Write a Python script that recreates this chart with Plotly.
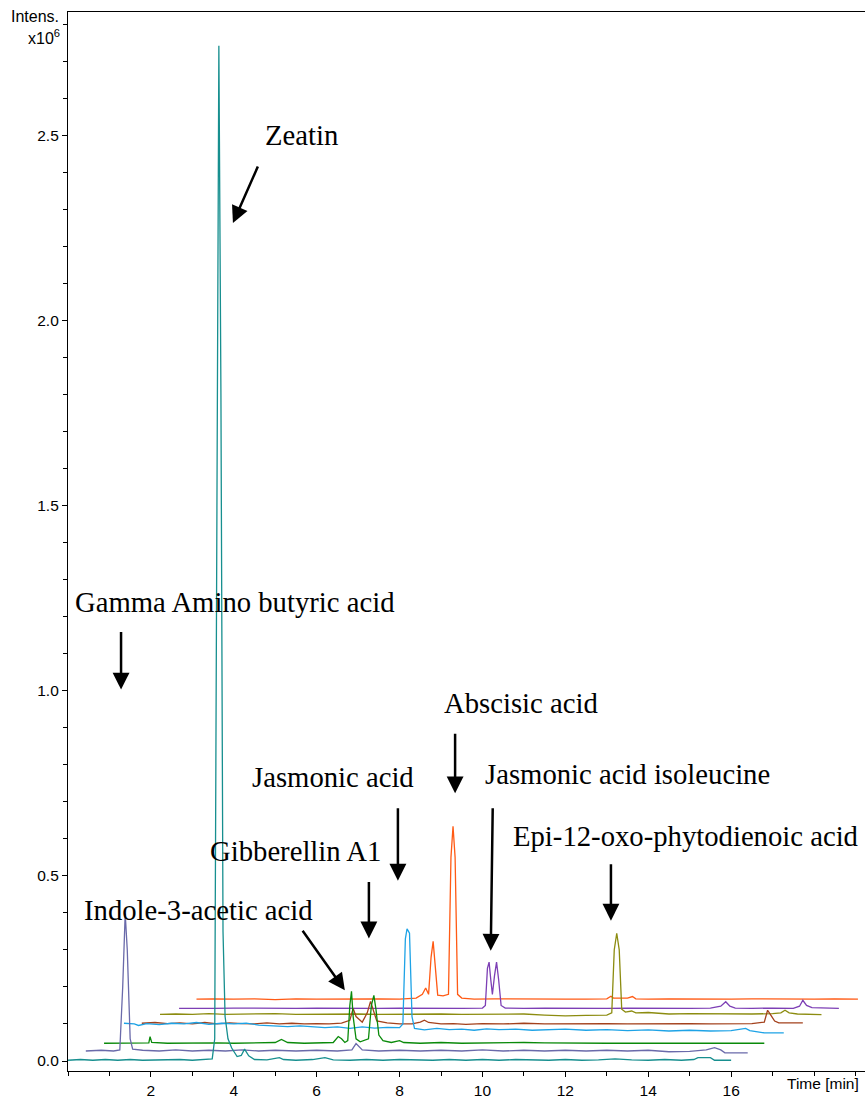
import plotly.graph_objects as go

# ---- data: (time [min], intensity x10^6) readings per trace ----
zeatin_teal = [(0.0,0.002),(0.3,0.004),(0.6,0.002),(0.9,0.004),(1.2,0.002),(1.5,0.004),(1.8,0.002),(2.1,0.003),
    (2.4,0.002),(2.7,0.004),(3.0,0.002),(3.3,0.004),(3.48,0.006),(3.54,0.06),(3.60,1.9),(3.64,2.742),(3.69,1.8),
    (3.74,0.35),(3.79,0.12),(3.86,0.06),(3.95,0.035),(4.08,0.012),(4.18,0.015),(4.26,0.032),(4.36,0.014),(4.5,0.004),
    (4.8,0.003),(5.1,0.009),(5.2,0.004),(5.5,0.002),(5.9,0.004),(6.2,0.009),(6.4,0.003),(6.8,0.002),(7.2,0.004),
    (7.6,0.002),(8.0,0.004),(8.4,0.003),(8.8,0.002),(9.2,0.004),(9.6,0.002),(10.0,0.004),(10.4,0.002),(10.8,0.004),
    (11.2,0.003),(11.6,0.002),(12.0,0.004),(12.4,0.002),(12.8,0.003),(13.2,0.006),(13.6,0.003),(14.0,0.002),
    (14.4,0.004),(14.8,0.002),(15.1,0.004),(15.2,0.009),(15.5,0.009),(15.6,0.002),(16.0,0.002)]

gaba_slate = [(0.43,0.027),(0.8,0.029),(1.1,0.027),(1.25,0.03),(1.32,0.2),(1.38,0.398),(1.43,0.3),(1.5,0.06),
    (1.56,0.032),(1.8,0.029),(2.2,0.027),(2.6,0.03),(3.0,0.027),(3.4,0.029),(3.8,0.027),(4.2,0.03),(4.6,0.027),
    (5.0,0.029),(5.5,0.027),(6.0,0.029),(6.5,0.027),(6.85,0.03),(6.95,0.047),(7.1,0.03),(7.5,0.027),(8.0,0.029),
    (8.5,0.027),(9.0,0.029),(9.5,0.027),(10.0,0.03),(10.5,0.027),(11.0,0.029),(11.5,0.027),(12.0,0.029),
    (12.5,0.027),(13.0,0.029),(13.5,0.027),(14.0,0.029),(14.5,0.025),(15.0,0.026),(15.4,0.03),(15.6,0.036),
    (15.75,0.03),(15.85,0.022),(16.4,0.022)]

iaa_green = [(0.87,0.048),(1.3,0.049),(1.7,0.048),(1.95,0.049),(1.98,0.066),(2.02,0.05),(2.4,0.048),(2.8,0.049),
    (3.2,0.048),(3.6,0.049),(4.0,0.048),(4.5,0.049),(5.0,0.05),(5.15,0.058),(5.3,0.05),(5.7,0.048),(6.1,0.049),
    (6.4,0.05),(6.52,0.066),(6.6,0.06),(6.68,0.05),(6.75,0.055),(6.8,0.15),(6.84,0.188),(6.88,0.12),(6.95,0.06),
    (7.05,0.052),(7.25,0.06),(7.32,0.15),(7.38,0.177),(7.43,0.14),(7.5,0.07),(7.6,0.055),(7.8,0.05),(8.0,0.055),
    (8.1,0.05),(8.5,0.048),(9.0,0.05),(9.5,0.048),(10.0,0.049),(10.5,0.048),(11.0,0.05),(11.5,0.049),(12.0,0.048),
    (12.5,0.048),(13.0,0.048),(14.0,0.048),(15.0,0.048),(16.0,0.05),(16.2,0.049),(16.8,0.048)]

ja_blue = [(1.35,0.102),(1.6,0.1),(1.7,0.096),(1.9,0.101),(2.2,0.098),(2.5,0.102),(2.8,0.1),(3.1,0.104),(3.4,0.099),
    (3.7,0.102),(4.0,0.1),(4.3,0.102),(4.6,0.097),(5.0,0.095),(5.3,0.093),(5.6,0.095),(5.9,0.092),(6.2,0.09),
    (6.5,0.092),(6.8,0.088),(7.1,0.092),(7.4,0.089),(7.7,0.091),(8.0,0.09),(8.08,0.1),(8.14,0.33),(8.18,0.357),
    (8.24,0.345),(8.3,0.12),(8.36,0.088),(8.6,0.084),(8.9,0.088),(9.2,0.085),(9.5,0.086),(9.8,0.083),(10.1,0.087),
    (10.4,0.085),(10.8,0.086),(11.2,0.083),(11.6,0.085),(12.0,0.086),(12.5,0.083),(13.0,0.085),(13.5,0.082),
    (14.0,0.084),(14.5,0.081),(15.0,0.083),(15.5,0.081),(16.0,0.082),(16.35,0.088),(16.45,0.082),(16.8,0.076),
    (17.27,0.076)]

ga1_brown = [(1.78,0.102),(2.1,0.104),(2.4,0.101),(2.7,0.103),(3.0,0.1),(3.3,0.104),(3.6,0.1),(3.9,0.103),(4.2,0.101),
    (4.5,0.1),(4.8,0.103),(5.1,0.1),(5.4,0.102),(5.7,0.1),(6.0,0.101),(6.3,0.1),(6.6,0.102),(6.8,0.11),(6.88,0.142),
    (6.95,0.12),(7.1,0.105),(7.22,0.13),(7.3,0.161),(7.36,0.14),(7.45,0.108),(7.7,0.103),(8.0,0.1),(8.3,0.1),
    (8.5,0.105),(8.6,0.11),(8.7,0.104),(9.0,0.1),(9.3,0.101),(9.6,0.099),(10.0,0.101),(10.5,0.1),(11.0,0.102),
    (11.5,0.1),(12.0,0.101),(12.5,0.1),(13.0,0.101),(13.5,0.1),(14.0,0.101),(14.5,0.1),(15.0,0.101),(15.5,0.1),
    (16.0,0.1),(16.5,0.101),(16.8,0.105),(16.88,0.137),(16.95,0.125),(17.05,0.108),(17.15,0.103),(17.73,0.103)]

opda_olive = [(2.22,0.126),(2.6,0.127),(3.0,0.126),(3.4,0.128),(3.8,0.126),(4.2,0.127),(4.6,0.126),(5.0,0.128),
    (5.5,0.126),(6.0,0.127),(6.5,0.126),(7.0,0.127),(7.5,0.126),(8.0,0.127),(8.5,0.126),(9.0,0.127),(9.5,0.126),
    (10.0,0.127),(10.5,0.126),(11.0,0.127),(11.5,0.124),(12.0,0.122),(12.5,0.123),(13.0,0.124),(13.12,0.13),
    (13.18,0.3),(13.24,0.345),(13.3,0.3),(13.36,0.14),(13.45,0.132),(13.6,0.135),(13.7,0.13),(14.0,0.131),
    (14.5,0.127),(15.0,0.128),(15.5,0.127),(16.0,0.128),(16.5,0.127),(17.0,0.128),(17.2,0.13),(17.3,0.137),
    (17.4,0.13),(17.6,0.127),(18.18,0.125)]

jaile_purple = [(2.68,0.142),(3.1,0.143),(3.5,0.142),(4.0,0.143),(4.5,0.142),(5.0,0.143),(5.5,0.142),(6.0,0.143),
    (6.5,0.142),(7.0,0.143),(7.5,0.142),(8.0,0.143),(8.5,0.142),(9.0,0.143),(9.5,0.142),(10.0,0.143),(10.07,0.15),
    (10.12,0.25),(10.16,0.267),(10.2,0.22),(10.24,0.18),(10.29,0.23),(10.34,0.267),(10.39,0.22),(10.45,0.15),
    (10.55,0.143),(11.0,0.142),(11.5,0.143),(12.0,0.142),(12.5,0.143),(13.0,0.142),(13.5,0.143),(14.0,0.142),
    (14.5,0.143),(15.0,0.142),(15.5,0.143),(15.75,0.148),(15.87,0.16),(15.97,0.148),(16.1,0.143),(16.5,0.142),
    (17.0,0.143),(17.5,0.142),(17.65,0.148),(17.73,0.164),(17.82,0.15),(17.95,0.144),(18.6,0.142)]

aba_orange = [(3.1,0.167),(3.5,0.168),(4.0,0.167),(4.5,0.168),(5.0,0.166),(5.5,0.168),(6.0,0.167),(6.5,0.168),
    (7.0,0.167),(7.5,0.168),(8.0,0.167),(8.4,0.17),(8.55,0.18),(8.63,0.197),(8.7,0.18),(8.76,0.28),(8.81,0.323),
    (8.86,0.26),(8.92,0.178),(9.05,0.176),(9.18,0.18),(9.24,0.55),(9.29,0.634),(9.34,0.55),(9.4,0.18),(9.5,0.17),
    (9.8,0.167),(10.3,0.168),(11.0,0.167),(11.5,0.168),(12.0,0.167),(12.5,0.167),(13.0,0.168),(13.1,0.175),
    (13.16,0.17),(13.5,0.17),(13.62,0.174),(13.7,0.168),(14.0,0.167),(14.5,0.168),(15.0,0.167),(15.5,0.168),
    (16.0,0.167),(16.5,0.168),(17.0,0.167),(17.5,0.168),(18.0,0.167),(18.5,0.168),(19.06,0.167)]

series = [
    (aba_orange, "#ff5a14"),
    (jaile_purple, "#7d3fb5"),
    (opda_olive, "#8c8c10"),
    (ga1_brown, "#a3411c"),
    (ja_blue, "#1ea3e6"),
    (iaa_green, "#0a8a0a"),
    (gaba_slate, "#6a6aaa"),
    (zeatin_teal, "#178f8f"),
]

x_tick_vals = [2, 4, 6, 8, 10, 12, 14, 16]
y_tick_vals = [0.0, 0.5, 1.0, 1.5, 2.0, 2.5]
y_tick_text = ["0.0", "0.5", "1.0", "1.5", "2.0", "2.5"]

# label: (text, text x, text y, arrow tip x, arrow tip y, ax px, ay px)
labels = [
    ("Zeatin", 5.63, 2.50, 3.98, 2.263, 26, -59),
    ("Gamma Amino butyric acid", 4.02, 1.239, 1.28, 1.003, 0, -60),
    ("Abscisic acid", 10.92, 0.968, 9.34, 0.723, 0, -62),
    ("Jasmonic acid", 6.40, 0.766, 7.96, 0.487, 0, -75),
    ("Jasmonic acid isoleucine", 13.50, 0.774, 10.20, 0.298, 2, -145),
    ("Gibberellin A1", 5.49, 0.567, 7.26, 0.331, 0, -59),
    ("Epi-12-oxo-phytodienoic acid", 14.89, 0.608, 13.10, 0.379, 0, -59),
    ("Indole-3-acetic acid", 3.15, 0.409, 6.68, 0.191, -44, -62),
]

fig = go.Figure()
for pts, col in series:
    xs = [p[0] for p in pts]
    ys = [p[1] for p in pts]
    fig.add_trace(go.Scatter(x=xs, y=ys, mode="lines", line=dict(color=col, width=1.3),
                             showlegend=False, hoverinfo="skip"))

ann = []
for text, tx, ty, px, py, axp, ayp in labels:
    ann.append(dict(x=tx, y=ty, xref="x", yref="y", text=text, showarrow=False,
                    font=dict(family="Liberation Serif", size=28.7, color="black")))
    ann.append(dict(x=px, y=py, xref="x", yref="y", text=" ", showarrow=True, ax=axp, ay=ayp,
                    arrowhead=2, arrowsize=1.35, arrowwidth=2.5, arrowcolor="black", standoff=0,
                    font=dict(size=2)))

ann.append(dict(x=0, y=0.9953, xref="paper", yref="paper", xanchor="right", yanchor="middle", xshift=-7,
                text="Intens.", showarrow=False, font=dict(family="Liberation Sans", size=16, color="black")))
ann.append(dict(x=0, y=0.9765, xref="paper", yref="paper", xanchor="right", yanchor="middle", xshift=-6,
                text="x10<sup>6</sup>", showarrow=False, font=dict(family="Liberation Sans", size=16, color="black")))
ann.append(dict(x=0.947, y=-0.0122, xref="paper", yref="paper", xanchor="center", yanchor="middle",
                text="Time [min]", showarrow=False, font=dict(family="Liberation Sans", size=15.5, color="black")))

fig.update_layout(
    width=865, height=1099,
    margin=dict(l=68, r=0, t=12, b=23),
    paper_bgcolor="white", plot_bgcolor="white",
    annotations=ann,
    font=dict(family="Liberation Sans", size=15.5, color="black"),
)
fig.update_xaxes(range=[0, 19.23], tickvals=x_tick_vals, ticks="outside", ticklen=5, tickcolor="black",
                 showline=True, linecolor="black", linewidth=1.2, mirror=True, showgrid=False, zeroline=False,
                 minor=dict(dtick=1, tick0=0, ticks="outside", ticklen=4, tickcolor="black", showgrid=False))
fig.update_yaxes(range=[-0.027, 2.833], tickvals=y_tick_vals, ticktext=y_tick_text, ticks="outside", ticklen=5,
                 tickcolor="black", showline=True, linecolor="black", linewidth=1.2, showgrid=False, zeroline=False,
                 minor=dict(dtick=0.1, tick0=0, ticks="outside", ticklen=4, tickcolor="black", showgrid=False))

fig.write_html("out.html")
